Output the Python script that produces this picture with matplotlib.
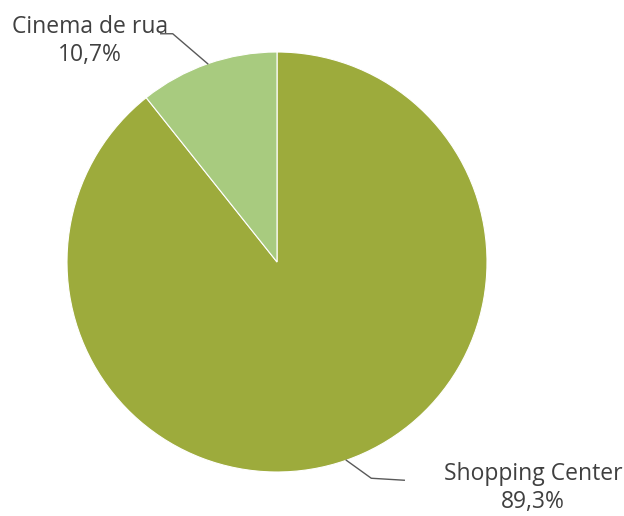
import matplotlib.pyplot as plt
import numpy as np

categories = ["Shopping Center", "Cinema de rua"]
values = [89.3, 10.7]
value_labels = ["89,3%", "10,7%"]
colors = ["#9dab3c", "#a8cb7f"]

W, H = 624, 516
fig = plt.figure(figsize=(W / 100, H / 100), dpi=100)
ax = fig.add_axes([0, 0, 1, 1])

cx, cy, r = 277, H - 262, 210
wedges, _ = ax.pie(
    values,
    colors=colors,
    startangle=90,
    counterclock=False,
    center=(cx, cy),
    radius=r,
    frame=True,
    wedgeprops=dict(edgecolor="white", linewidth=0.8),
)
ax.set_xlim(0, W)
ax.set_ylim(0, H)
ax.set_aspect("equal")
ax.axis("off")

text_color = "#404040"
font = dict(family="Open Sans", fontsize=16.5, color=text_color)

# leader lines: (elbow offset, end offset, label position) per wedge
layout = {
    "Shopping Center": ((25, -18), (58, -20), (533, H - 488)),
    "Cinema de rua": ((-35, 30), (-47, 30), (90, H - 41)),
}

for w, cat, lab in zip(wedges, categories, value_labels):
    ang = np.deg2rad((w.theta1 + w.theta2) / 2)
    x0, y0 = cx + r * np.cos(ang), cy + r * np.sin(ang)
    (ex, ey), (fx, fy), (tx, ty) = layout[cat]
    ax.plot([x0, x0 + ex, x0 + fx], [y0, y0 + ey, y0 + fy],
            color="#595959", linewidth=1)
    ax.text(tx, ty, f"{cat}\n{lab}", ha="center", va="center",
            linespacing=1.25, **font)

fig.savefig("out.png", dpi=100, facecolor="white")
